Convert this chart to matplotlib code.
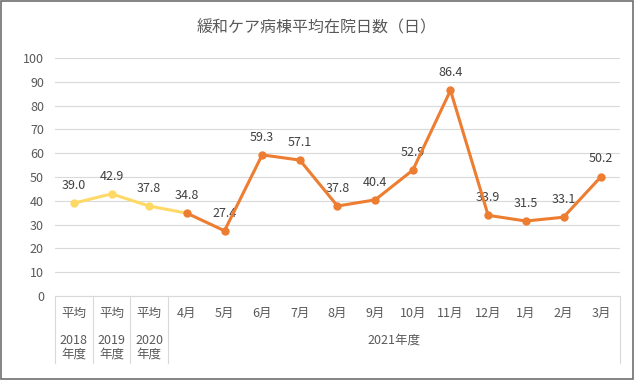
import matplotlib.pyplot as plt
from matplotlib.patches import Rectangle

plt.rcParams['font.family'] = ['Noto Sans CJK JP', 'DejaVu Sans']

title = '緩和ケア病棟平均在院日数（日）'
year_labels = ['平均', '平均', '平均']
year_sub = ['2018\n年度', '2019\n年度', '2020\n年度']
months = ['4月', '5月', '6月', '7月', '8月', '9月', '10月', '11月', '12月', '1月', '2月', '3月']
year_avg = [39.0, 42.9, 37.8]
monthly = [34.8, 27.4, 59.3, 57.1, 37.8, 40.4, 52.9, 86.4, 33.9, 31.5, 33.1, 50.2]
group_label = '2021年度'

yellow = '#FFD966'
orange = '#ED7D31'
grid_c = '#D9D9D9'
txt_c = '#595959'

fig = plt.figure(figsize=(6.34, 3.8), dpi=100)
ax = fig.add_axes([55 / 634, 84 / 380, 565 / 634, 238 / 380])

n_avg = len(year_avg)
xa = list(range(n_avg))
xm = list(range(n_avg, n_avg + len(monthly)))

# yellow segment runs from the yearly averages to the first month
ax.plot(xa + [xm[0]], year_avg + [monthly[0]], color=yellow, lw=2.2,
        marker='o', ms=5, markevery=list(range(n_avg)), zorder=3)
ax.plot(xm, monthly, color=orange, lw=2.2, marker='o', ms=5, zorder=4)

for x, v in zip(xa + xm, year_avg + monthly):
    ax.annotate(f'{v:.1f}', (x, v), xytext=(0, 8), textcoords='offset points',
                ha='center', va='bottom', fontsize=9, color='#404040')

ax.set_xlim(-0.5, n_avg + len(monthly) - 0.5)
ax.set_ylim(0, 100)
ax.set_yticks(range(0, 101, 10))
ax.yaxis.grid(True, color=grid_c, lw=0.8)
ax.set_axisbelow(True)
ax.tick_params(axis='y', length=0, labelsize=9, labelcolor=txt_c, pad=8)
ax.set_xticks([])
for s in ['top', 'right', 'left']:
    ax.spines[s].set_visible(False)
ax.spines['bottom'].set_color(grid_c)
ax.spines['bottom'].set_linewidth(0.8)

# category table under the axis
tr = ax.get_xaxis_transform()
for x in [-0.5, 0.5, 1.5, 2.5, n_avg + len(monthly) - 0.5]:
    ax.plot([x, x], [0, -0.28], transform=tr, color=grid_c, lw=0.8, clip_on=False)
for x, a, b in zip(xa, year_labels, year_sub):
    ax.text(x, -0.075, a, transform=tr, ha='center', va='center', fontsize=9, color=txt_c)
    ax.text(x, -0.215, b, transform=tr, ha='center', va='center', fontsize=9,
            color=txt_c, linespacing=1.0)
for x, m in zip(xm, months):
    ax.text(x, -0.075, m, transform=tr, ha='center', va='center', fontsize=9, color=txt_c)
ax.text((xm[0] + xm[-1]) / 2, -0.185, group_label, transform=tr, ha='center',
        va='center', fontsize=9, color=txt_c)

fig.text(0.5, 1 - 28 / 380, title, ha='center', va='center', fontsize=11.5, color=txt_c)
fig.patches.append(Rectangle((0.001, 0.002), 0.997, 0.995, transform=fig.transFigure,
                             fill=False, edgecolor='#6F6F6F', lw=1.2))

fig.savefig('out.png', dpi=100)
